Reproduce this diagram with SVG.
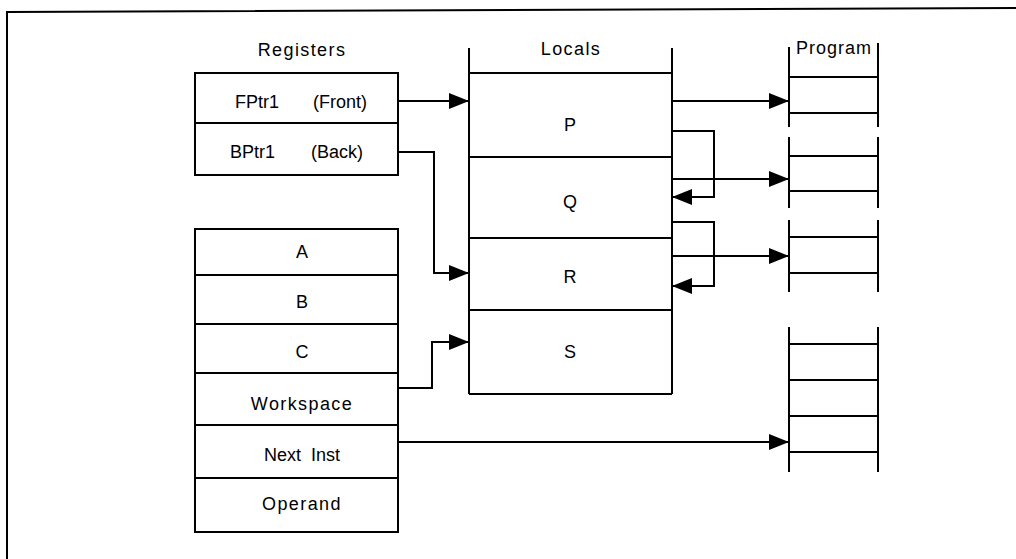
<svg xmlns="http://www.w3.org/2000/svg" width="1016" height="559" viewBox="0 0 1016 559">
<style>
.ln{stroke:#000;stroke-width:2;fill:none}
.box{stroke:#000;stroke-width:2;fill:#fff}
text{font-family:"Liberation Sans",Arial,sans-serif;font-size:18px;fill:#000}
.c{text-anchor:middle}
.w{letter-spacing:1.4px}
</style>
<defs>
<marker id="ah" viewBox="0 0 20 16" refX="20" refY="8" markerWidth="20" markerHeight="16" markerUnits="userSpaceOnUse" orient="auto">
<path d="M0,0 L20,8 L0,16 Z" fill="#000"/>
</marker>
</defs>
<rect width="1016" height="559" fill="#fff"/>
<g id="frame"><polyline class="ln" points="7,559 7,12 1016,8"/></g>

<g id="registers">
<text class="c w" x="302" y="56">Registers</text>
<rect class="box" x="195" y="73" width="203" height="102"/>
<line class="ln" x1="195" y1="123" x2="398" y2="123"/>
<text x="235" y="108">FPtr1</text><text x="313" y="108">(Front)</text>
<text x="230" y="158">BPtr1</text><text x="311" y="158">(Back)</text>
</g>

<g id="workregs">
<rect class="box" x="195" y="229" width="203" height="303"/>
<line class="ln" x1="195" y1="275" x2="398" y2="275"/>
<line class="ln" x1="195" y1="324" x2="398" y2="324"/>
<line class="ln" x1="195" y1="373" x2="398" y2="373"/>
<line class="ln" x1="195" y1="425" x2="398" y2="425"/>
<line class="ln" x1="195" y1="478" x2="398" y2="478"/>
<text class="c" x="302" y="258">A</text>
<text class="c" x="302" y="308">B</text>
<text class="c" x="302" y="358">C</text>
<text class="c w" x="302" y="410">Workspace</text>
<text class="c" x="302" y="461" xml:space="preserve">Next  Inst</text>
<text class="c w" x="302" y="510">Operand</text>
</g>

<g id="locals">
<text class="c w" x="571" y="55">Locals</text>
<line class="ln" x1="469" y1="48" x2="469" y2="394"/>
<line class="ln" x1="672" y1="48" x2="672" y2="394"/>
<line class="ln" x1="469" y1="73" x2="672" y2="73"/>
<line class="ln" x1="469" y1="157" x2="672" y2="157"/>
<line class="ln" x1="469" y1="238" x2="672" y2="238"/>
<line class="ln" x1="469" y1="310" x2="672" y2="310"/>
<line class="ln" x1="469" y1="394" x2="672" y2="394"/>
<text class="c" x="570" y="131">P</text>
<text class="c" x="570" y="208">Q</text>
<text class="c" x="570" y="283">R</text>
<text class="c" x="570" y="358">S</text>
</g>

<g id="program">
<text class="c" x="834" y="54" style="letter-spacing:1px">Program</text>
<line class="ln" x1="789" y1="47" x2="789" y2="127"/>
<line class="ln" x1="878" y1="43" x2="878" y2="127"/>
<line class="ln" x1="789" y1="77" x2="878" y2="77"/>
<line class="ln" x1="789" y1="113" x2="878" y2="113"/>
<line class="ln" x1="789" y1="137" x2="789" y2="208"/>
<line class="ln" x1="878" y1="137" x2="878" y2="208"/>
<line class="ln" x1="789" y1="156" x2="878" y2="156"/>
<line class="ln" x1="789" y1="191" x2="878" y2="191"/>
<line class="ln" x1="789" y1="220" x2="789" y2="292"/>
<line class="ln" x1="878" y1="220" x2="878" y2="292"/>
<line class="ln" x1="789" y1="237" x2="878" y2="237"/>
<line class="ln" x1="789" y1="273" x2="878" y2="273"/>
<line class="ln" x1="789" y1="327" x2="789" y2="472"/>
<line class="ln" x1="878" y1="327" x2="878" y2="472"/>
<line class="ln" x1="789" y1="344" x2="878" y2="344"/>
<line class="ln" x1="789" y1="380" x2="878" y2="380"/>
<line class="ln" x1="789" y1="416" x2="878" y2="416"/>
<line class="ln" x1="789" y1="452" x2="878" y2="452"/>
</g>

<g id="connectors">
<polyline class="ln" points="398,101 469,101" marker-end="url(#ah)"/>
<polyline class="ln" points="398,152 434,152 434,273 469,273" marker-end="url(#ah)"/>
<polyline class="ln" points="398,388 432,388 432,342 469,342" marker-end="url(#ah)"/>
<polyline class="ln" points="398,442 789,442" marker-end="url(#ah)"/>
<polyline class="ln" points="672,101 789,101" marker-end="url(#ah)"/>
<polyline class="ln" points="672,179 789,179" marker-end="url(#ah)"/>
<polyline class="ln" points="672,256 789,256" marker-end="url(#ah)"/>
<polyline class="ln" points="672,131 714,131 714,197 672,197" marker-end="url(#ah)"/>
<polyline class="ln" points="672,222 714,222 714,286 672,286" marker-end="url(#ah)"/>
</g>
</svg>
